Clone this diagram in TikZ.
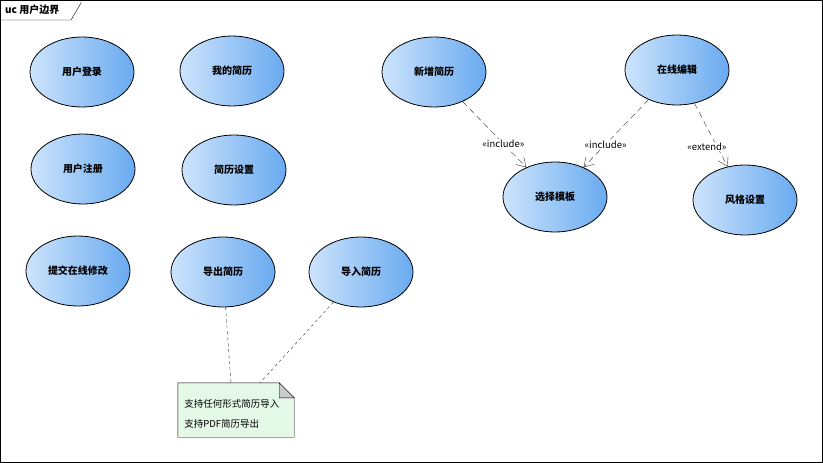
\documentclass[tikz,border=0pt]{standalone}
\usepackage{fontspec}
\setmainfont{Noto Sans CJK SC}
\usetikzlibrary{arrows.meta,shapes.geometric}
\definecolor{ucleft}{RGB}{205,228,252}
\definecolor{ucright}{RGB}{105,170,240}
\definecolor{notefill}{RGB}{228,248,232}
\tikzset{
	usecase/.style	= {ellipse, draw, line width=0.8pt, left color=ucleft, right color=ucright,
				minimum width=104pt, minimum height=70pt, inner sep=0pt, font=\fontsize{10}{11}\selectfont\bfseries},
	dep/.style	= {draw=black!80, dash pattern=on 6pt off 4pt, -{Straight Barb[length=9pt,width=11pt]}},
	lbl/.style	= {fill=white, inner sep=1pt, font=\fontsize{9.5}{10}\selectfont},
	anchorline/.style = {draw=black!80, dash pattern=on 3pt off 3pt}
}
\begin{document}
\begin{tikzpicture}[x=1pt,y=-1pt]
	\useasboundingbox (0,0) rectangle (823,463);
	\draw[line width=1pt] (0.5,0.5) rectangle (822.5,462.5);
	\node (tab) at (5,10) [anchor=west, inner sep=0pt, font=\fontsize{10}{11}\selectfont\bfseries]	{uc 用户边界};
	\draw (0.5,20) -- (71,20) -- (81,3) -- (81,0.5);

	\node (U1) at ( 82,  72)	[usecase]	{用户登录};
	\node (U2) at (232,  71)	[usecase]	{我的简历};
	\node (U3) at ( 83, 169)	[usecase]	{用户注册};
	\node (U4) at (234, 170)	[usecase]	{简历设置};
	\node (U5) at ( 78, 271)	[usecase]	{提交在线修改};
	\node (U6) at (223, 272)	[usecase]	{导出简历};
	\node (U7) at (361, 272)	[usecase]	{导入简历};
	\node (U8) at (434,  72)	[usecase]	{新增简历};
	\node (U9) at (677,  70)	[usecase]	{在线编辑};
	\node (U10) at (555, 197)	[usecase]	{选择模板};
	\node (U11) at (745, 200)	[usecase]	{风格设置};

	% note
	\node (N1) at (236, 410) [minimum width=116pt, minimum height=54pt, inner sep=0pt] {};
	\fill[notefill] (N1.north west) -- ([xshift=-15pt]N1.north east) -- ([yshift=-15pt]N1.north east)
		-- (N1.south east) -- (N1.south west) -- cycle;
	\draw (N1.north west) -- ([xshift=-15pt]N1.north east) -- ([yshift=-15pt]N1.north east)
		-- (N1.south east) -- (N1.south west) -- cycle;
	\filldraw[fill=black!20] ([xshift=-15pt]N1.north east) -- ([xshift=-15pt,yshift=-15pt]N1.north east)
		-- ([yshift=-15pt]N1.north east) -- cycle;
	\node at ([xshift=3pt,yshift=-4pt]N1.west) [anchor=west, align=left, font=\fontsize{9.5}{20}\selectfont]
		{支持任何形式简历导入\\支持PDF简历导出};

	\draw[dep] (U8) -- node[lbl, pos=0.64] {«include»} (U10);
	\draw[dep] (U9) -- node[lbl, pos=0.66] {«include»} (U10);
	\draw[dep] (U9) -- node[lbl, pos=0.68, xshift=-10pt] {«extend»} (U11);
	\draw[anchorline] (U6) -- ([xshift=-5pt]N1.north);
	\draw[anchorline] (U7) -- ([xshift=24pt]N1.north);
\end{tikzpicture}
\end{document}
